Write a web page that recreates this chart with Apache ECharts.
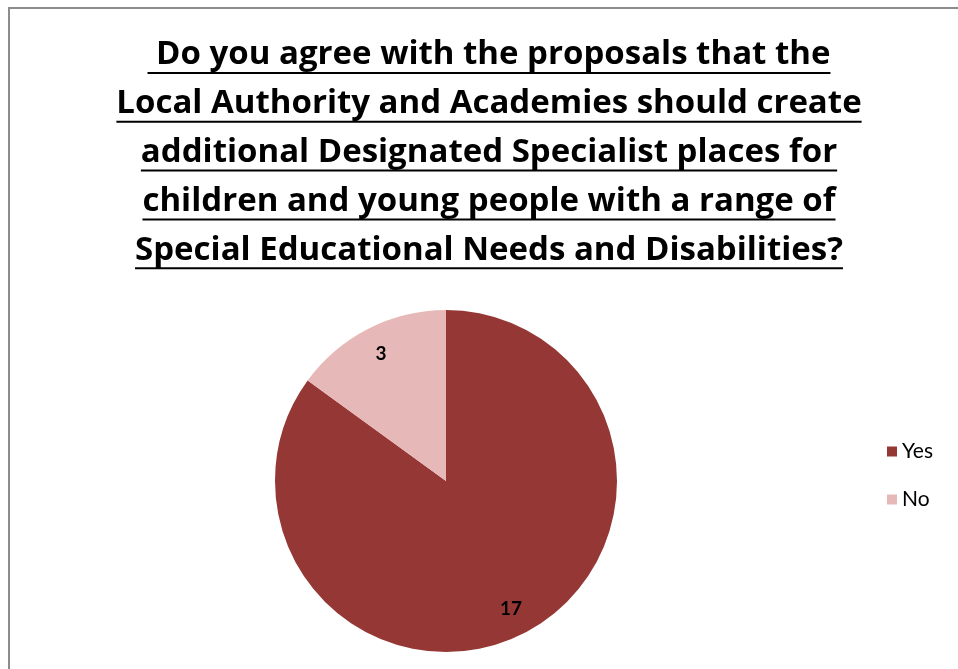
<!DOCTYPE html>
<html>
<head>
<meta charset="utf-8">
<script src="https://cdn.jsdelivr.net/npm/echarts@6/dist/echarts.min.js"></script>
<style>
  html, body { margin: 0; padding: 0; background: #fff; }
  #chart { width: 958px; height: 669px; }
</style>
</head>
<body>
<div id="chart"></div>
<script>
// Survey answers
const categories = ['Yes', 'No'];
const answerCounts = [17, 3];
const sliceColors = ['#953735', '#E6B9B8'];
const titleLines = [
  ' Do you agree with the proposals that the',
  'Local Authority and Academies should create',
  'additional Designated Specialist places for',
  'children and young people with a range of',
  'Special Educational Needs and Disabilities?'
];

const TITLE_FONT = 'bold 33px "Open Sans"';
const chart = echarts.init(document.getElementById('chart'), null, { renderer: 'canvas' });

// measure each title line so the underline spans exactly its text
const measureCtx = document.createElement('canvas').getContext('2d');
measureCtx.font = TITLE_FONT;

const titleCx = 489;
const firstUnderline = 73;
const lineStep = 48.8;
const titleGraphics = [];
titleLines.forEach((line, i) => {
  const ulY = firstUnderline + i * lineStep;
  const w = measureCtx.measureText(line).width;
  titleGraphics.push({
    type: 'text',
    x: titleCx, y: ulY - 18,
    style: {
      text: line, font: TITLE_FONT, fill: '#000',
      align: 'center', verticalAlign: 'middle'
    }
  });
  titleGraphics.push({
    type: 'line',
    shape: { x1: titleCx - w / 2, y1: ulY, x2: titleCx + w / 2, y2: ulY },
    style: { stroke: '#000', lineWidth: 2 }
  });
});

const pieData = categories.map((name, i) => ({
  name, value: answerCounts[i], itemStyle: { color: sliceColors[i] }
}));

chart.setOption({
  animation: false,
  backgroundColor: '#fff',
  graphic: [
    {
      type: 'rect',
      shape: { x: 9, y: 8, width: 1000, height: 700 },
      style: { fill: 'none', stroke: '#8c8c8c', lineWidth: 2 },
      z: 0
    },
    ...titleGraphics
  ],
  legend: {
    orient: 'vertical',
    left: 882, top: 436,
    itemWidth: 10, itemHeight: 10, itemGap: 27,
    icon: 'rect',
    data: categories,
    textStyle: { fontFamily: 'Lato', fontSize: 21, color: '#000' }
  },
  series: [
    {
      type: 'pie',
      center: [446, 481],
      radius: [0, 171],
      startAngle: 90,
      clockwise: true,
      silent: true,
      label: { show: false },
      labelLine: { show: false },
      data: pieData
    },
    {
      // transparent ring used only to place the value labels near the rim
      type: 'pie',
      center: [446, 481],
      radius: [0, 280],
      startAngle: 90,
      clockwise: true,
      silent: true,
      legendHoverLink: false,
      itemStyle: { color: 'rgba(0,0,0,0)' },
      label: {
        show: true,
        position: 'inside',
        formatter: '{c}',
        fontFamily: 'Lato', fontWeight: 'bold', fontSize: 19, color: '#000'
      },
      labelLine: { show: false },
      data: categories.map((name, i) => ({ name, value: answerCounts[i] }))
    }
  ]
});
</script>
</body>
</html>
